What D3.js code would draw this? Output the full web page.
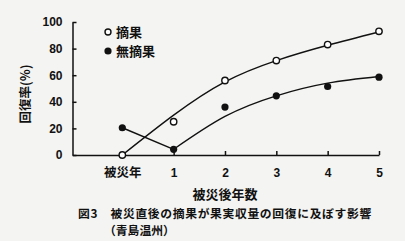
<!DOCTYPE html>
<html>
<head>
<meta charset="utf-8">
<script src="https://cdn.jsdelivr.net/npm/d3@7"></script>
<style>
  body { margin: 0; background: #f4f4f2; }
  svg { display: block; }
  text { fill: #111; }
  .jp { font-family: "Noto Sans CJK JP", sans-serif; font-weight: 700; }
  .num { font-family: "Liberation Sans", Arial, sans-serif; font-weight: 700; }
</style>
</head>
<body>
<div id="chart"></div>
<script>
// x positions: 0 = 被災年, 1..5 = years after damage
const years = [0, 1, 2, 3, 4, 5];
const xTickLabels = ['被災年', '1', '2', '3', '4', '5'];
const yTicks = [0, 20, 40, 60, 80, 100];

// observed recovery rate (%)
const thinned = [0, 25, 56, 71, 83, 93];      // 摘果
const unthinned = [20.5, 4.3, 36, 44.5, 51.5, 58.5]; // 無摘果

// fitted trend lines as drawn on the figure
const thinnedFitX = [0, 1, 2, 3, 4, 5];
const thinnedFit = [0, 30, 55, 71, 82.5, 92.5];
const unthinnedFitX = [1, 2, 3, 4, 5];
const unthinnedFit = [4.3, 29, 44.5, 54, 59];

const captionLines = ['図3　被災直後の摘果が果実収量の回復に及ぼす影響', '（青島温州）'];

const width = 405;
const height = 241;
const svg = d3.select('#chart').append('svg').attr('width', width).attr('height', height);

const x = d3.scaleLinear().domain([-0.97, 5]).range([72.5, 379]);
const y = d3.scaleLinear().domain([0, 100]).range([155, 22]);

// y axis
const yAxis = svg.append('g')
  .attr('transform', `translate(${x(-0.97)},0)`)
  .call(d3.axisLeft(y).tickValues(yTicks).tickSizeInner(-4).tickSizeOuter(0).tickPadding(10));
yAxis.selectAll('text').attr('class', 'num').style('font-size', '12px');

// x axis
const xAxis = svg.append('g')
  .attr('transform', `translate(0,${y(0)})`)
  .call(d3.axisBottom(x).tickValues(years).tickSizeInner(-4).tickSizeOuter(0).tickPadding(13)
    .tickFormat((d, i) => xTickLabels[i]));
xAxis.selectAll('.tick').filter((d) => d === 0).select('line').remove();
xAxis.selectAll('text')
  .attr('class', (d) => (d === 0 ? 'jp' : 'num'))
  .style('font-size', (d) => (d === 0 ? '12.5px' : '12px'));

svg.selectAll('.domain, .tick line').attr('stroke', '#111').attr('stroke-width', 1.5);

const line = d3.line()
  .x((d) => x(d[0]))
  .y((d) => y(d[1]));

// fitted curves
svg.append('path')
  .datum(thinnedFitX.map((d, i) => [d, thinnedFit[i]]))
  .attr('fill', 'none').attr('stroke', '#111').attr('stroke-width', 1.4)
  .attr('d', line.curve(d3.curveNatural));

svg.append('path')
  .datum(unthinnedFitX.map((d, i) => [d, unthinnedFit[i]]))
  .attr('fill', 'none').attr('stroke', '#111').attr('stroke-width', 1.4)
  .attr('d', line.curve(d3.curveNatural));

// straight segment for 無摘果 between 被災年 and year 1
svg.append('path')
  .datum([[years[0], unthinned[0]], [years[1], unthinned[1]]])
  .attr('fill', 'none').attr('stroke', '#111').attr('stroke-width', 1.4)
  .attr('d', line.curve(d3.curveLinear));

// points
svg.selectAll('.pt-open')
  .data(years)
  .enter()
  .append('circle')
  .attr('class', 'pt-open')
  .attr('cx', (d) => x(d))
  .attr('cy', (d, i) => y(thinned[i]))
  .attr('r', 3.2)
  .attr('fill', '#fff')
  .attr('stroke', '#111')
  .attr('stroke-width', 1.4);

svg.selectAll('.pt-fill')
  .data(years)
  .enter()
  .append('circle')
  .attr('class', 'pt-fill')
  .attr('cx', (d) => x(d))
  .attr('cy', (d, i) => y(unthinned[i]))
  .attr('r', 3.6)
  .attr('fill', '#111');

// legend
const legend = [
  { label: '摘果', open: true },
  { label: '無摘果', open: false },
];
const lg = svg.selectAll('.legend')
  .data(legend)
  .enter()
  .append('g')
  .attr('class', 'legend')
  .attr('transform', (d, i) => `translate(108,${32 + i * 19})`);
lg.append('circle')
  .attr('r', (d) => (d.open ? 3 : 3.6))
  .attr('fill', (d) => (d.open ? '#fff' : '#111'))
  .attr('stroke', '#111')
  .attr('stroke-width', (d) => (d.open ? 1.4 : 0));
lg.append('text')
  .attr('class', 'jp')
  .attr('x', 8)
  .attr('dy', '0.36em')
  .style('font-size', '13px')
  .text((d) => d.label);

// axis titles
svg.append('text')
  .attr('class', 'jp')
  .attr('transform', 'translate(25,94) rotate(-90)')
  .attr('text-anchor', 'middle')
  .attr('dy', '0.36em')
  .style('font-size', '12.5px')
  .text('回復率(%)');

svg.append('text')
  .attr('class', 'jp')
  .attr('x', 225)
  .attr('y', 194)
  .attr('text-anchor', 'middle')
  .attr('dy', '0.36em')
  .style('font-size', '13px')
  .text('被災後年数');

// caption, two lines
svg.selectAll('.caption')
  .data(captionLines)
  .enter()
  .append('text')
  .attr('class', 'jp caption')
  .attr('x', (d, i) => (i === 0 ? 78 : 104))
  .attr('y', (d, i) => (i === 0 ? 213.5 : 231))
  .attr('dy', '0.36em')
  .style('font-size', '11.8px')
  .style('letter-spacing', (d, i) => (i === 0 ? '0.65px' : '0px'))
  .text((d) => d);
</script>
</body>
</html>
